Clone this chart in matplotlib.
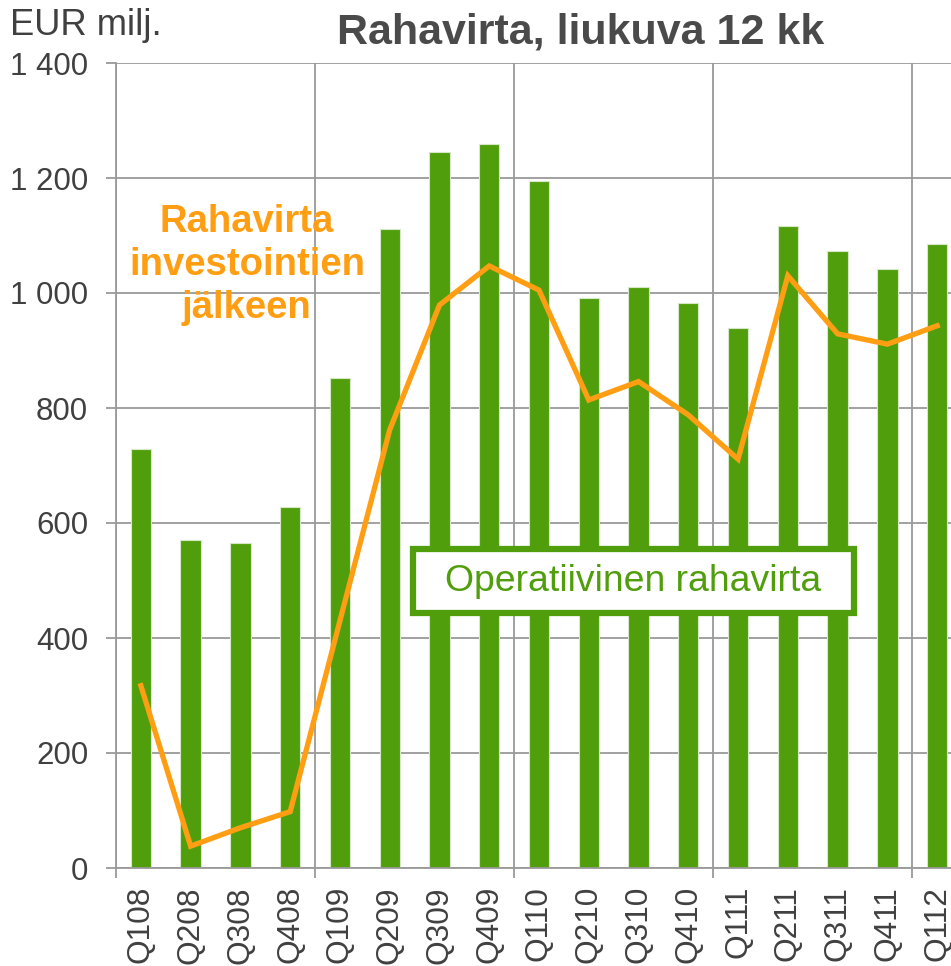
import numpy as np
import matplotlib
matplotlib.use("Agg")
import matplotlib.pyplot as plt
from matplotlib.patches import Rectangle
from matplotlib.ticker import FixedLocator, FuncFormatter

plt.rcParams["font.family"] = ["Liberation Sans", "DejaVu Sans"]

# Data (EUR milj., rolling 12 months)
quarters = ["Q108", "Q208", "Q308", "Q408", "Q109", "Q209", "Q309", "Q409",
            "Q110", "Q210", "Q310", "Q410", "Q111", "Q211", "Q311", "Q411",
            "Q112"]
operating_cf = [729, 570, 565, 628, 852, 1112, 1246, 1259,
                1194, 991, 1010, 983, 939, 1117, 1073, 1041, 1085]
cf_after_invest = [317, 38, 70, 98, 430, 762, 979, 1047,
                   1005, 814, 846, 788, 711, 1030, 929, 911, 943]
y_ticks = [0, 200, 400, 600, 800, 1000, 1200, 1400]

GREEN = "#519E0C"
ORANGE = "#FF9E12"
GRID = "#9a9a9a"
TEXT = "#404040"

fig = plt.figure(figsize=(9.51, 9.66), dpi=100)
# axes run past the right edge of the figure, like the cropped original
ax = fig.add_axes([116 / 951, 98 / 966, 846 / 951, 805 / 966])

x = np.arange(len(quarters))
ax.bar(x, operating_cf, width=0.41, color=GREEN, edgecolor="#d6e8c8",
       linewidth=0.8, zorder=3)
ax.plot(x, cf_after_invest, color=ORANGE, linewidth=3.8,
        solid_joinstyle="miter", zorder=4)

ax.set_xlim(-0.5, len(quarters) - 0.5)
ax.set_ylim(0, 1400)

# category labels on major ticks, group separators on minor ticks
ax.set_xticks(x)
ax.set_xticklabels(quarters, rotation=90, fontsize=22.8, color=TEXT)
ax.xaxis.set_minor_locator(FixedLocator(np.arange(-0.5, len(quarters), 4)))
ax.tick_params(axis="x", which="major", length=0, pad=13)
ax.tick_params(axis="x", which="minor", length=7, width=1.3, color=GRID)

ax.set_yticks(y_ticks)
ax.yaxis.set_major_formatter(
    FuncFormatter(lambda v, p: f"{int(v):,}".replace(",", " ")))
ax.tick_params(axis="y", length=7, width=1.3, color=GRID, labelsize=22.5,
               labelcolor=TEXT, pad=13)

ax.grid(True, axis="y", which="major", color=GRID, linewidth=1.3, zorder=0)
ax.grid(True, axis="x", which="minor", color=GRID, linewidth=1.3, zorder=0)
ax.grid(False, axis="x", which="major")

for side in ["top", "right"]:
    ax.spines[side].set_visible(False)
for side in ["left", "bottom"]:
    ax.spines[side].set_color(GRID)
    ax.spines[side].set_linewidth(1.3)
ax.spines["bottom"].set_zorder(5)

# series labels
ax.text(2.13, 1049, "Rahavirta\ninvestointien\njälkeen", color=ORANGE,
        fontsize=27.5, fontweight="bold", ha="center", va="center",
        multialignment="center", linespacing=1.25, zorder=6)

ax.add_patch(Rectangle((5.47, 443), 8.86, 112, facecolor="white",
                       edgecolor=GREEN, linewidth=4.5, zorder=6))
ax.text(9.9, 499, "Operatiivinen rahavirta", color=GREEN, fontsize=26.9,
        ha="center", va="center", zorder=7)

fig.text(0.611, 1 - 43 / 966, "Rahavirta, liukuva 12 kk", ha="center",
         va="baseline", fontsize=31, fontweight="bold", color="#4a4a4a")
fig.text(10 / 951, 1 - 35 / 966, "EUR milj.", ha="left", va="baseline",
         fontsize=26.2, color=TEXT)

fig.savefig("out.png", dpi=100)
